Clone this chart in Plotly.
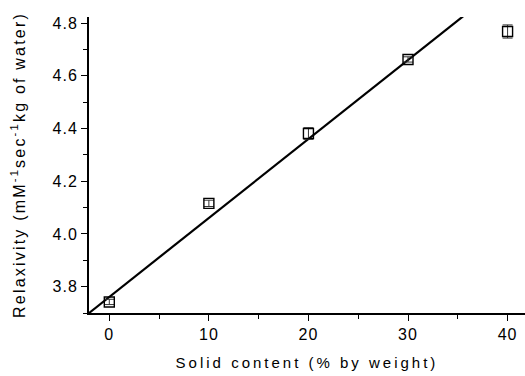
import plotly.graph_objects as go

solid_content = [0, 10, 20, 30, 40]
relaxivity = [3.742, 4.116, 4.381, 4.662, 4.768]
relaxivity_err = [0.01, 0.012, 0.022, 0.01, 0.025]

fit_intercept = 3.761
fit_slope = 0.02996
fit_x = [-2.04, 42]
fit_y = [fit_intercept + fit_slope * x for x in fit_x]

x_tickvals = [0, 10, 20, 30, 40]
y_tickvals = [3.8, 4.0, 4.2, 4.4, 4.6, 4.8]

font_family = "Liberation Sans, Arial, sans-serif"

fig = go.Figure()
fig.add_trace(go.Scatter(
    x=fit_x, y=fit_y, mode="lines",
    line=dict(color="black", width=2.2),
    showlegend=False, hoverinfo="skip",
))
fig.add_trace(go.Scatter(
    x=solid_content, y=relaxivity, mode="markers",
    marker=dict(symbol="square-open", size=10, color="black",
                line=dict(color="black", width=1.4)),
    error_y=dict(type="data", array=relaxivity_err, visible=True,
                 color="#333333", thickness=1, width=5),
    showlegend=False, cliponaxis=False,
))

fig.update_layout(
    width=525, height=376,
    margin=dict(l=89, r=0, t=17, b=63, autoexpand=False),
    paper_bgcolor="white", plot_bgcolor="white",
    font=dict(family=font_family, color="black"),
)
fig.update_xaxes(
    range=[-2.04, 41.75], automargin=False,
    tickvals=x_tickvals,
    ticks="outside", ticklen=6, tickwidth=1.2, tickcolor="black",
    minor=dict(dtick=5, tick0=0, ticks="outside", ticklen=4, tickwidth=1, tickcolor="black"),
    showline=True, linecolor="black", linewidth=2,
    showgrid=False, zeroline=False,
    tickfont=dict(size=16),
    title=dict(text="Solid content (% by weight)", font=dict(size=15), standoff=15),
)
fig.update_yaxes(
    range=[3.70, 4.823], automargin=False,
    tickvals=y_tickvals, tickformat=".1f",
    ticks="outside", ticklen=6, tickwidth=1.2, tickcolor="black",
    minor=dict(dtick=0.1, tick0=3.7, ticks="outside", ticklen=4, tickwidth=1, tickcolor="black"),
    showline=True, linecolor="black", linewidth=2,
    showgrid=False, zeroline=False,
    tickfont=dict(size=16),
    title=dict(text="Relaxivity (mM<sup>-1</sup>sec<sup>-1</sup>kg of water)",
               font=dict(size=16), standoff=26),
)

post = """
document.body.style.margin='0';
document.body.style.padding='0';
document.querySelectorAll('g.xtick text, g.ytick text').forEach(function(e){e.style.letterSpacing='1px';});
document.querySelectorAll('text.xtitle').forEach(function(e){e.style.letterSpacing='3px';});
document.querySelectorAll('text.ytitle').forEach(function(e){e.style.letterSpacing='2.2px';});
"""
fig.write_html("out.html", post_script=post, config={"displayModeBar": False})
